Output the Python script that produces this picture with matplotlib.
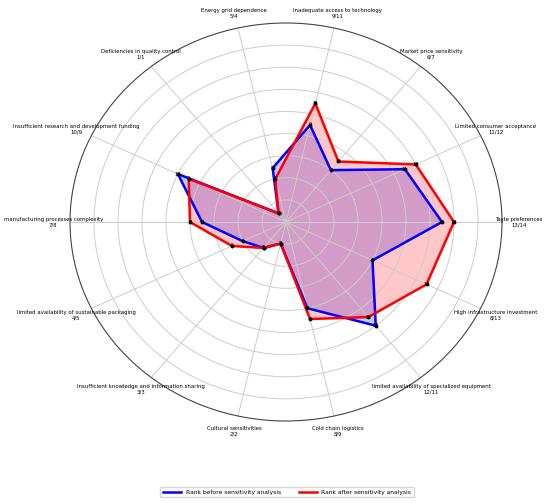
import numpy as np
import matplotlib
matplotlib.use("Agg")
import matplotlib.pyplot as plt

# categories, counterclockwise from the right
categories = [
    "Taste preferences",
    "Limited consumer acceptance",
    "Market price sensitivity",
    "Inadequate access to technology",
    "Energy grid dependence",
    "Deficiencies in quality control",
    "Insufficient research and development funding",
    "manufacturing processes complexity",
    "limited availability of sustainable packaging",
    "Insufficient knowledge and information sharing",
    "Cultural sensitivities",
    "Cold chain logistics",
    "limited availability of specialized equipment",
    "High infrastructure investment",
]
rank_before = [13, 11, 6, 9, 5, 1, 10, 7, 4, 3, 2, 8, 12, 8]
rank_after = [14, 12, 7, 11, 4, 1, 9, 8, 5, 3, 2, 9, 11, 13]


def main():
    n = len(categories)
    angles = np.linspace(0, 2 * np.pi, n, endpoint=False)
    ang_closed = np.append(angles, angles[0])

    fig = plt.figure(figsize=(5.5, 5.03), dpi=100)
    ax = fig.add_axes([70 / 550, 82 / 503, 432 / 550, 398 / 503], projection="polar")
    ax.set_aspect("auto")

    series = [
        (rank_before, "blue", "Rank before sensitivity analysis"),
        (rank_after, "red", "Rank after sensitivity analysis"),
    ]
    for vals, col, lab in series:
        v = np.append(vals, vals[0])
        ax.plot(ang_closed, v, color=col, lw=1.8, label=lab)
        ax.fill(ang_closed, v, color=col, alpha=0.22)
        ax.plot(angles, vals, "o", color="black", ms=1.8, zorder=5)
        for a, val in zip(angles, vals):
            ax.text(a, val, str(val), fontsize=3.6, ha="center", va="center", zorder=6)

    ax.set_ylim(0, 18)
    ax.set_yticks(range(2, 18, 2))
    ax.set_yticklabels([])
    ax.set_xticks(angles)
    ax.set_xticklabels([])
    ax.grid(color="#cccccc", lw=0.7)
    ax.spines["polar"].set_color("#444444")
    ax.spines["polar"].set_linewidth(0.8)

    # category labels with before/after ranks
    for a, cat, b, af in zip(angles, categories, rank_before, rank_after):
        ax.text(a, 19.4, f"{cat}\n{b}/{af}", fontsize=3.9, ha="center", va="center",
                linespacing=1.1, clip_on=False)

    fig.legend(loc="center", bbox_to_anchor=(287 / 550, 1 - 492 / 503), ncol=2,
               fontsize=4.3, frameon=True, handlelength=3, columnspacing=3)

    fig.savefig("out.png", dpi=100)


if __name__ == "__main__":
    main()
